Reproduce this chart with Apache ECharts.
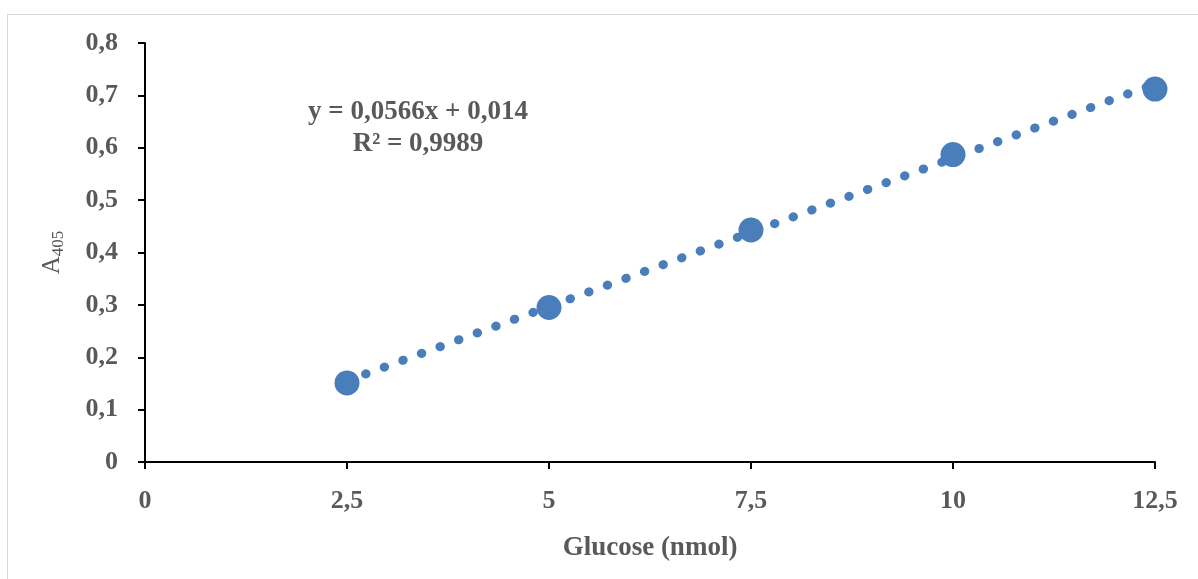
<!DOCTYPE html>
<html>
<head>
<meta charset="utf-8">
<script src="https://cdn.jsdelivr.net/npm/echarts@6/dist/echarts.min.js"></script>
<style>
  html, body { margin: 0; padding: 0; background: #fff; }
  #frame { position: absolute; left: 7px; top: 14px; right: -2px; bottom: -2px; border: 1px solid #d9d9d9; }
  #chart { width: 1198px; height: 579px; }
</style>
</head>
<body>
<div id="frame"></div>
<div id="chart"></div>
<script>
// glucose amounts (nmol) and measured absorbance
var glucose = [2.5, 5, 7.5, 10, 12.5];
var absorbance = [0.151, 0.295, 0.443, 0.587, 0.712];
// linear trendline, end points
var trendX = [2.5, 12.5];
var trendY = [0.155, 0.722];
var equationLines = ['y = 0,0566x + 0,014', 'R\u00B2 = 0,9989'];

var blue = '#4a7ebb';
var grey = '#595959';
var serif = '"Liberation Serif", "Times New Roman", serif';

function comma(v) {
  return String(v).replace('.', ',');
}

var myChart = echarts.init(document.getElementById('chart'));
myChart.setOption({
  animation: false,
  grid: {
    left: 145,
    right: 43,
    top: 43,
    bottom: 117
  },
  xAxis: {
    type: 'value',
    min: 0,
    max: 12.5,
    interval: 2.5,
    name: 'Glucose (nmol)',
    nameLocation: 'middle',
    nameGap: 73,
    nameTextStyle: { color: grey, fontFamily: serif, fontWeight: 'bold', fontSize: 27 },
    axisLine: { onZero: false, lineStyle: { color: '#000', width: 2 } },
    axisTick: { show: true, length: 7, lineStyle: { color: '#000', width: 2 } },
    axisLabel: {
      color: grey, fontFamily: serif, fontWeight: 'bold', fontSize: 26, margin: 26,
      formatter: comma
    },
    splitLine: { show: false }
  },
  yAxis: {
    type: 'value',
    min: 0,
    max: 0.8,
    interval: 0.1,
    name: '{a|A}{s|405}',
    nameLocation: 'middle',
    nameGap: 78,
    nameTextStyle: {
      rich: {
        a: { color: grey, fontFamily: serif, fontSize: 25 },
        s: { color: grey, fontFamily: serif, fontSize: 17, verticalAlign: 'bottom', padding: [12, 0, 0, 0] }
      }
    },
    axisLine: { show: true, lineStyle: { color: '#000', width: 2 } },
    axisTick: { show: true, length: 7, lineStyle: { color: '#000', width: 2 } },
    axisLabel: {
      color: grey, fontFamily: serif, fontWeight: 'bold', fontSize: 26, margin: 27,
      formatter: function (v) { return comma(Math.round(v * 10) / 10); }
    },
    splitLine: { show: false }
  },
  graphic: [{
    type: 'text',
    x: 418,
    y: 96,
    style: {
      text: equationLines.join('\n'),
      fill: grey,
      font: 'bold 27px ' + serif,
      align: 'center',
      verticalAlign: 'top',
      lineHeight: 32
    }
  }],
  series: [
    {
      name: 'trend',
      type: 'line',
      data: trendX.map(function (x, i) { return [x, trendY[i]]; }),
      showSymbol: false,
      symbol: 'none',
      lineStyle: { color: blue, width: 9, type: [0.5, 19.3], cap: 'round' },
      z: 1
    },
    {
      name: 'A405',
      type: 'scatter',
      data: glucose.map(function (x, i) { return [x, absorbance[i]]; }),
      symbolSize: 25,
      itemStyle: { color: blue, opacity: 1 },
      z: 2
    }
  ]
});
</script>
</body>
</html>
